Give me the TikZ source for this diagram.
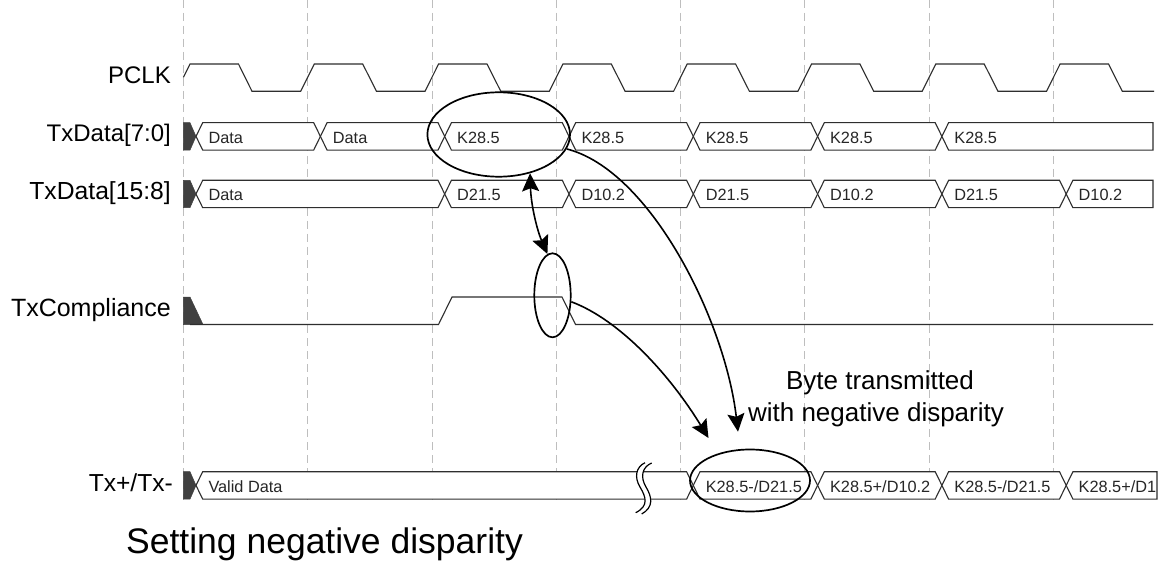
\documentclass[tikz,border=0pt]{standalone}
\usepackage{fontspec}
\setmainfont{Liberation Sans}
\usetikzlibrary{arrows.meta,shapes.geometric}
\definecolor{sig}{HTML}{2E2E2E}
\definecolor{block}{HTML}{404040}
\definecolor{gridc}{HTML}{BEBEBE}
\tikzset{
  sigline/.style={draw=sig,line width=1.1pt,line join=miter},
  busshape/.style={draw=sig,fill=white,line width=1.1pt},
  darkblock/.style={fill=block,draw=block,line width=0.5pt},
  gridline/.style={draw=gridc,line width=0.9pt,dash pattern=on 8pt off 5pt},
  mark ellipse/.style={ellipse,draw=black,line width=1.7pt,inner sep=0pt,fill=none},
  bigtip/.tip={Stealth[length=18pt,width=17pt,inset=3pt]},
  callout/.style={draw=black,line width=1.6pt,-bigtip},
  breakline/.style={draw=black,line width=1.2pt},
  siglabel/.style={anchor=base east,inner sep=0pt,font=\fontsize{24}{28}\selectfont},
  buslabel/.style={anchor=base west,inner sep=0pt,font=\fontsize{16.3}{19}\selectfont,text=black!85},
}
% \busseg{top y}{x1}{x2}{node name}{label}
\newcommand{\busseg}[5]{%
  \path[busshape] (#2,#1+13.7)--(#2+6.7,#1)--(#3-6.7,#1)--(#3,#1+13.7)--(#3-6.7,#1+27.4)--(#2+6.7,#1+27.4)--cycle;
  \node[buslabel] (#4) at (#2+12.3,#1+20.6) {#5};}
% last segment, closed by a vertical edge
\newcommand{\busend}[5]{%
  \path[busshape] (#2,#1+13.7)--(#2+6.7,#1)--(#3,#1)--(#3,#1+27.4)--(#2+6.7,#1+27.4)--cycle;
  \node[buslabel] (#4) at (#2+12.3,#1+20.6) {#5};}
\newcommand{\busstart}[1]{%
  \path[darkblock] (183.4,#1)--(190,#1)--(196,#1+13.7)--(190,#1+27.4)--(183.4,#1+27.4)--cycle;}
\begin{document}
\begin{tikzpicture}[x=1pt,y=-1pt]
\useasboundingbox (0,0) rectangle (1159,564);
\fill[white] (0,0) rectangle (1159,564);
% grid
\foreach \k in {0,...,7}{
  \draw[gridline] ({183.4+124.3*\k},0) -- ({183.4+124.3*\k},499.5);
}
% PCLK
\draw[sigline] (183.4,77.4)--(190,64)--(238.5,64)--(252,91.3)
 \foreach \k in {0,...,6}{
   --({300.7+124.3*\k},91.3)--({314.3+124.3*\k},64)--({362.7+124.3*\k},64)--({376.5+124.3*\k},91.3)
 } -- (1154,91.3);
\node[siglabel] (lpclk) at (171,84) {PCLK};
% TxData[7:0]
\node[siglabel] (ltx0) at (171,141.7) {TxData[7:0]};
\busstart{122.7}
\busseg{122.7}{196}{320.4}{a0}{Data}
\busseg{122.7}{320.4}{444.7}{a1}{Data}
\busseg{122.7}{444.7}{569}{a2}{K28.5}
\busseg{122.7}{569}{693.3}{a3}{K28.5}
\busseg{122.7}{693.3}{817.6}{a4}{K28.5}
\busseg{122.7}{817.6}{941.9}{a5}{K28.5}
\busend{122.7}{941.9}{1153}{a6}{K28.5}
% TxData[15:8]
\node[siglabel,font=\fontsize{24.7}{28}\selectfont] (ltx1) at (171,200) {TxData[15:8]};
\busstart{180.3}
\busseg{180.3}{196}{444.7}{b0}{Data}
\busseg{180.3}{444.7}{569}{b1}{D21.5}
\busseg{180.3}{569}{693.3}{b2}{D10.2}
\busseg{180.3}{693.3}{817.6}{b3}{D21.5}
\busseg{180.3}{817.6}{941.9}{b4}{D10.2}
\busseg{180.3}{941.9}{1066.2}{b5}{D21.5}
\busend{180.3}{1066.2}{1153}{b6}{D10.2}
% TxCompliance
\node[siglabel,font=\fontsize{25}{28}\selectfont] (lcomp) at (171,316.7) {TxCompliance};
\path[darkblock] (183.4,297)--(190,297)--(203,324.5)--(183.4,324.5)--cycle;
\draw[sigline] (190,324.5)--(438.5,324.5)--(452,297)--(562,297)--(575.5,324.5)--(1153,324.5);
% Tx+/Tx-
\node[siglabel,font=\fontsize{24.6}{28}\selectfont] (ltxp) at (173,491.7) {Tx+/Tx-};
\busstart{471.7}
\busseg{471.7}{196}{693.3}{c0}{Valid Data}
\busseg{471.7}{693.3}{817.6}{c1}{K28.5-/D21.5}
\busseg{471.7}{817.6}{941.9}{c2}{K28.5+/D10.2}
\busseg{471.7}{941.9}{1066.2}{c3}{K28.5-/D21.5}
\busend{471.7}{1066.2}{1157}{c4}{K28.5+/D1}
% break mark
\fill[white] (645,462.7) .. controls (636,467) and (634,477) .. (640,487) .. controls (646,497) and (649,506) .. (635.7,512.7)
  -- (641.7,514) .. controls (654,507) and (652,497) .. (646,487) .. controls (640,477) and (642,467) .. (651.7,463) -- cycle;
\draw[breakline] (645,462.7) .. controls (636,467) and (634,477) .. (640,487) .. controls (646,497) and (649,506) .. (635.7,512.7);
\draw[breakline] (651.7,463) .. controls (642,467) and (640,477) .. (646,487) .. controls (652,497) and (654,507) .. (641.7,514);
% ellipses
\node[mark ellipse,minimum width=142.6pt,minimum height=84.4pt] (e1) at (498.7,134.5) {};
\node[mark ellipse,minimum width=36.4pt,minimum height=84pt] (e2) at (552.5,295.3) {};
\node[mark ellipse,minimum width=120pt,minimum height=62pt] (e3) at (750,480.5) {};
% callouts
\coordinate (t1) at (738,431.7);
\coordinate (t2) at (708.5,438);
\draw[callout,bigtip-bigtip] (e1.-51) .. controls (531,205) and (537,230) .. (e2.97);
\draw[callout] (e1.-12) .. controls (650,170) and (725,320) .. (t1);
\draw[callout] (e2.-19) .. controls (620,320) and (670,375) .. (t2);
% texts
\node[inner sep=0pt,anchor=base,font=\fontsize{26}{32}\selectfont] (bt1) at (880,389) {Byte transmitted};
\node[inner sep=0pt,anchor=base,font=\fontsize{26}{32}\selectfont] (bt2) at (876,421) {with negative disparity};
\node[inner sep=0pt,anchor=base west,font=\fontsize{35.5}{42}\selectfont] (title) at (126,553) {Setting negative disparity};
\end{tikzpicture}
\end{document}
